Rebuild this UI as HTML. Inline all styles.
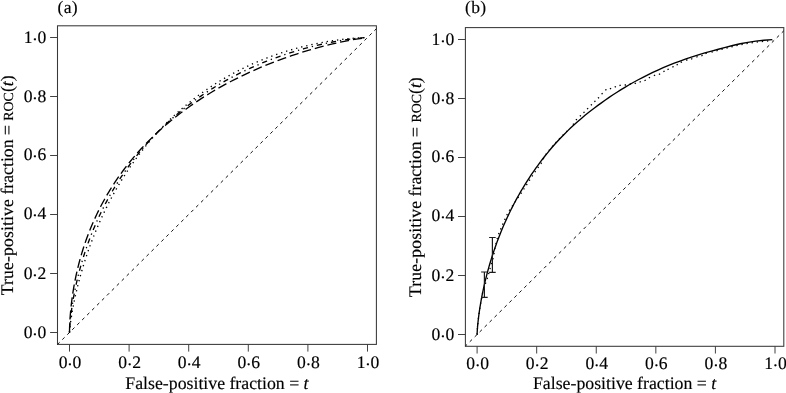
<!DOCTYPE html>
<html><head><meta charset="utf-8"><title>ROC curves</title>
<style>
html,body{margin:0;padding:0;background:#fff;}
body{width:786px;height:393px;overflow:hidden;}
svg text{font-family:"Liberation Serif",serif;text-rendering:geometricPrecision;stroke:#000;stroke-width:0.15px;}
</style></head><body>
<svg width="786" height="393" viewBox="0 0 786 393" style="display:block">
<rect width="786" height="393" fill="#fff"/>
<rect x="57.5" y="25.8" width="318.90" height="318.60" fill="none" stroke="#383838" stroke-width="1.05"/>
<path d="M69.50 344.4 v7.2 M57.5 332.50 h-7.4 M129.10 344.4 v7.2 M57.5 273.50 h-7.4 M188.70 344.4 v7.2 M57.5 214.50 h-7.4 M248.30 344.4 v7.2 M57.5 155.50 h-7.4 M307.90 344.4 v7.2 M57.5 96.50 h-7.4 M367.50 344.4 v7.2 M57.5 37.50 h-7.4" stroke="#383838" stroke-width="0.95" fill="none"/>
<g font-size="17.6" fill="#000">
<text x="70.00" y="367.8" text-anchor="middle">0<tspan dx="-0.4" dy="1.9">·</tspan><tspan dx="-0.4" dy="-1.9">0</tspan></text>
<text x="46.30" y="337.80" text-anchor="end">0<tspan dx="-0.4" dy="1.9">·</tspan><tspan dx="-0.4" dy="-1.9">0</tspan></text>
<text x="129.60" y="367.8" text-anchor="middle">0<tspan dx="-0.4" dy="1.9">·</tspan><tspan dx="-0.4" dy="-1.9">2</tspan></text>
<text x="46.30" y="278.85" text-anchor="end">0<tspan dx="-0.4" dy="1.9">·</tspan><tspan dx="-0.4" dy="-1.9">2</tspan></text>
<text x="189.20" y="367.8" text-anchor="middle">0<tspan dx="-0.4" dy="1.9">·</tspan><tspan dx="-0.4" dy="-1.9">4</tspan></text>
<text x="46.30" y="218.75" text-anchor="end">0<tspan dx="-0.4" dy="1.9">·</tspan><tspan dx="-0.4" dy="-1.9">4</tspan></text>
<text x="248.80" y="367.8" text-anchor="middle">0<tspan dx="-0.4" dy="1.9">·</tspan><tspan dx="-0.4" dy="-1.9">6</tspan></text>
<text x="46.30" y="160.35" text-anchor="end">0<tspan dx="-0.4" dy="1.9">·</tspan><tspan dx="-0.4" dy="-1.9">6</tspan></text>
<text x="308.40" y="367.8" text-anchor="middle">0<tspan dx="-0.4" dy="1.9">·</tspan><tspan dx="-0.4" dy="-1.9">8</tspan></text>
<text x="46.30" y="102.30" text-anchor="end">0<tspan dx="-0.4" dy="1.9">·</tspan><tspan dx="-0.4" dy="-1.9">8</tspan></text>
<text x="368.00" y="367.8" text-anchor="middle">1<tspan dx="-0.4" dy="1.9">·</tspan><tspan dx="-0.4" dy="-1.9">0</tspan></text>
<text x="46.30" y="43.00" text-anchor="end">1<tspan dx="-0.4" dy="1.9">·</tspan><tspan dx="-0.4" dy="-1.9">0</tspan></text>
</g>
<text x="216.95" y="389.0" font-size="17.77" text-anchor="middle" fill="#000">False-positive fraction = <tspan font-style="italic">t</tspan></text>
<text transform="translate(13.0 185.30) rotate(-90)" font-size="17.72" text-anchor="middle" fill="#000"><tspan letter-spacing="0.115">True-positive</tspan> fraction = <tspan font-size="13.9">ROC</tspan>(<tspan font-style="italic">t</tspan>)</text>
<text x="57.6" y="12.6" font-size="17.6" letter-spacing="0.25" fill="#000">(a)</text>
<path d="M57.5 344.38 L376.4 28.69" stroke="#111" stroke-width="1.0" stroke-dasharray="3.2 3.77" stroke-dashoffset="0.2" fill="none"/>
<path d="M69.50 332.50 L69.50 331.94 L69.50 331.93 L69.50 331.92 L69.50 331.91 L69.50 331.90 L69.50 331.89 L69.50 331.87 L69.50 331.86 L69.50 331.85 L69.50 331.84 L69.50 331.83 L69.50 331.81 L69.50 331.80 L69.50 331.79 L69.50 331.77 L69.50 331.76 L69.50 331.75 L69.50 331.73 L69.51 331.72 L69.51 331.70 L69.51 331.69 L69.51 331.67 L69.51 331.66 L69.51 331.64 L69.51 331.63 L69.51 331.61 L69.51 331.60 L69.51 331.58 L69.51 331.56 L69.51 331.54 L69.51 331.53 L69.51 331.51 L69.51 331.49 L69.51 331.47 L69.51 331.45 L69.51 331.43 L69.51 331.41 L69.51 331.39 L69.51 331.37 L69.51 331.35 L69.51 331.33 L69.51 331.31 L69.51 331.29 L69.51 331.27 L69.51 331.24 L69.51 331.22 L69.51 331.20 L69.51 331.17 L69.51 331.15 L69.51 331.12 L69.51 331.10 L69.51 331.07 L69.51 331.05 L69.51 331.02 L69.51 330.99 L69.51 330.97 L69.51 330.94 L69.52 330.91 L69.52 330.88 L69.52 330.85 L69.52 330.82 L69.52 330.79 L69.52 330.76 L69.52 330.73 L69.52 330.69 L69.52 330.66 L69.52 330.63 L69.52 330.59 L69.52 330.56 L69.52 330.52 L69.52 330.49 L69.52 330.45 L69.52 330.41 L69.52 330.38 L69.53 330.34 L69.53 330.30 L69.53 330.26 L69.53 330.22 L69.53 330.18 L69.53 330.14 L69.53 330.09 L69.53 330.05 L69.53 330.00 L69.53 329.96 L69.53 329.91 L69.53 329.87 L69.54 329.82 L69.54 329.77 L69.54 329.72 L69.54 329.67 L69.54 329.62 L69.54 329.57 L69.54 329.52 L69.54 329.46 L69.54 329.41 L69.55 329.35 L69.55 329.30 L69.55 329.24 L69.55 329.18 L69.55 329.12 L69.55 329.06 L69.55 329.00 L69.56 328.93 L69.56 328.87 L69.56 328.81 L69.56 328.74 L69.56 328.67 L69.57 328.60 L69.57 328.53 L69.57 328.46 L69.57 328.39 L69.57 328.32 L69.58 328.24 L69.58 328.17 L69.58 328.09 L69.58 328.01 L69.58 327.93 L69.59 327.85 L69.59 327.77 L69.59 327.68 L69.59 327.60 L69.60 327.51 L69.60 327.42 L69.60 327.33 L69.61 327.24 L69.61 327.15 L69.61 327.05 L69.62 326.96 L69.62 326.86 L69.62 326.76 L69.63 326.66 L69.63 326.56 L69.63 326.45 L69.64 326.34 L69.64 326.24 L69.65 326.12 L69.65 326.01 L69.65 325.90 L69.66 325.78 L69.66 325.66 L69.67 325.54 L69.67 325.42 L69.68 325.30 L69.68 325.17 L69.69 325.04 L69.69 324.91 L69.70 324.78 L69.71 324.65 L69.71 324.51 L69.72 324.37 L69.73 324.23 L69.73 324.08 L69.74 323.94 L69.75 323.79 L69.75 323.63 L69.76 323.48 L69.77 323.32 L69.78 323.16 L69.78 323.00 L69.79 322.84 L69.80 322.67 L69.81 322.50 L69.82 322.33 L69.83 322.15 L69.84 321.97 L69.85 321.79 L69.86 321.60 L69.87 321.42 L69.88 321.22 L69.89 321.03 L69.90 320.83 L69.91 320.63 L69.92 320.43 L69.94 320.22 L69.95 320.01 L69.96 319.80 L69.98 319.58 L69.99 319.36 L70.00 319.13 L70.02 318.90 L70.03 318.67 L70.05 318.43 L70.07 318.19 L70.08 317.95 L70.10 317.70 L70.12 317.45 L70.14 317.19 L70.15 316.93 L70.17 316.67 L70.19 316.40 L70.21 316.13 L70.23 315.85 L70.26 315.57 L70.28 315.28 L70.30 314.99 L70.32 314.69 L70.35 314.39 L70.37 314.09 L70.40 313.78 L70.42 313.46 L70.45 313.14 L70.48 312.82 L70.51 312.48 L70.54 312.15 L70.57 311.81 L70.60 311.46 L70.63 311.11 L70.66 310.75 L70.70 310.39 L70.73 310.02 L70.77 309.64 L70.81 309.26 L70.85 308.88 L70.88 308.48 L70.92 308.08 L70.97 307.68 L71.01 307.27 L71.05 306.85 L71.10 306.43 L71.15 305.99 L71.19 305.56 L71.24 305.11 L71.29 304.66 L71.35 304.20 L71.40 303.74 L71.46 303.26 L71.51 302.78 L71.57 302.30 L71.63 301.80 L71.70 301.30 L71.76 300.79 L71.83 300.27 L71.89 299.75 L71.96 299.21 L72.04 298.67 L72.11 298.12 L72.19 297.56 L72.27 297.00 L72.35 296.42 L72.43 295.84 L72.52 295.25 L72.60 294.64 L72.69 294.03 L72.79 293.41 L72.88 292.79 L72.98 292.15 L73.09 291.50 L73.19 290.84 L73.30 290.18 L73.41 289.50 L73.52 288.82 L73.64 288.12 L73.76 287.41 L73.89 286.70 L74.02 285.97 L74.15 285.23 L74.28 284.48 L74.42 283.72 L74.57 282.95 L74.72 282.17 L74.87 281.38 L75.02 280.58 L75.19 279.76 L75.35 278.93 L75.52 278.09 L75.70 277.24 L75.88 276.38 L76.07 275.51 L76.26 274.62 L76.46 273.72 L76.66 272.81 L76.87 271.89 L77.09 270.95 L77.31 270.00 L77.54 269.04 L77.77 268.06 L78.01 267.07 L78.26 266.07 L78.52 265.05 L78.78 264.02 L79.06 262.97 L79.33 261.91 L79.62 260.84 L79.92 259.75 L80.22 258.65 L80.54 257.54 L80.86 256.41 L81.19 255.26 L81.53 254.10 L81.89 252.92 L82.25 251.73 L82.62 250.52 L83.00 249.30 L83.40 248.06 L83.81 246.81 L84.22 245.54 L84.66 244.25 L85.10 242.95 L85.56 241.63 L86.02 240.30 L86.51 238.95 L87.01 237.58 L87.52 236.19 L88.05 234.79 L88.59 233.37 L89.15 231.94 L89.72 230.48 L90.31 229.01 L90.92 227.52 L91.55 226.02 L92.19 224.49 L92.86 222.95 L93.54 221.39 L94.24 219.81 L94.97 218.22 L95.71 216.60 L96.48 214.97 L97.27 213.32 L98.08 211.65 L98.92 209.97 L99.78 208.26 L100.66 206.54 L101.57 204.79 L102.51 203.03 L103.48 201.25 L104.47 199.46 L105.49 197.64 L106.55 195.80 L107.63 193.95 L108.75 192.08 L109.89 190.18 L111.07 188.27 L112.29 186.34 L113.54 184.40 L114.83 182.43 L116.16 180.45 L117.52 178.45 L118.93 176.42 L120.37 174.39 L121.86 172.33 L123.39 170.25 L124.97 168.16 L126.59 166.05 L128.26 163.92 L129.98 161.78 L131.75 159.62 L133.57 157.44 L135.44 155.24 L137.37 153.03 L139.36 150.81 L141.40 148.56 L143.50 146.30 L145.67 144.03 L147.90 141.74 L150.19 139.44 L152.55 137.12 L154.98 134.79 L157.48 132.45 L160.05 130.10 L162.70 127.73 L165.43 125.35 L168.24 122.96 L171.12 120.56 L174.10 118.15 L177.16 115.74 L180.30 113.31 L183.55 110.88 L186.88 108.44 L190.32 106.00 L193.85 103.55 L197.49 101.10 L201.23 98.65 L205.08 96.19 L209.05 93.74 L213.13 91.29 L217.33 88.84 L221.66 86.39 L226.11 83.96 L230.69 81.52 L235.41 79.10 L240.26 76.69 L245.25 74.30 L250.39 71.92 L255.69 69.55 L261.13 67.21 L266.74 64.90 L272.51 62.60 L278.45 60.34 L284.56 58.12 L290.85 55.93 L297.32 53.78 L303.99 51.68 L310.85 49.64 L317.91 47.65 L325.17 45.74 L332.65 43.91 L340.35 42.17 L348.27 40.55 L356.43 39.07 L364.82 37.81" stroke="#000" stroke-width="1.35" stroke-dasharray="9.14 3.915" fill="none" stroke-linejoin="round"/>
<path d="M69.50 332.50 L69.50 332.30 L69.50 332.29 L69.50 332.29 L69.50 332.28 L69.50 332.28 L69.50 332.27 L69.50 332.27 L69.50 332.26 L69.50 332.26 L69.50 332.25 L69.50 332.25 L69.50 332.24 L69.50 332.24 L69.50 332.23 L69.50 332.22 L69.50 332.22 L69.50 332.21 L69.50 332.21 L69.51 332.20 L69.51 332.19 L69.51 332.19 L69.51 332.18 L69.51 332.17 L69.51 332.16 L69.51 332.16 L69.51 332.15 L69.51 332.14 L69.51 332.13 L69.51 332.13 L69.51 332.12 L69.51 332.11 L69.51 332.10 L69.51 332.09 L69.51 332.08 L69.51 332.07 L69.51 332.06 L69.51 332.05 L69.51 332.04 L69.51 332.03 L69.51 332.02 L69.51 332.01 L69.51 332.00 L69.51 331.99 L69.51 331.98 L69.51 331.97 L69.51 331.96 L69.51 331.95 L69.51 331.93 L69.51 331.92 L69.51 331.91 L69.51 331.90 L69.51 331.88 L69.51 331.87 L69.51 331.86 L69.51 331.84 L69.51 331.83 L69.51 331.81 L69.52 331.80 L69.52 331.78 L69.52 331.77 L69.52 331.75 L69.52 331.74 L69.52 331.72 L69.52 331.70 L69.52 331.69 L69.52 331.67 L69.52 331.65 L69.52 331.63 L69.52 331.61 L69.52 331.59 L69.52 331.57 L69.52 331.55 L69.52 331.53 L69.52 331.51 L69.53 331.49 L69.53 331.47 L69.53 331.45 L69.53 331.42 L69.53 331.40 L69.53 331.38 L69.53 331.35 L69.53 331.33 L69.53 331.30 L69.53 331.28 L69.53 331.25 L69.53 331.23 L69.54 331.20 L69.54 331.17 L69.54 331.14 L69.54 331.11 L69.54 331.08 L69.54 331.05 L69.54 331.02 L69.54 330.99 L69.54 330.96 L69.55 330.92 L69.55 330.89 L69.55 330.86 L69.55 330.82 L69.55 330.79 L69.55 330.75 L69.55 330.71 L69.56 330.67 L69.56 330.64 L69.56 330.60 L69.56 330.56 L69.56 330.51 L69.57 330.47 L69.57 330.43 L69.57 330.39 L69.57 330.34 L69.57 330.29 L69.58 330.25 L69.58 330.20 L69.58 330.15 L69.58 330.10 L69.58 330.05 L69.59 330.00 L69.59 329.95 L69.59 329.89 L69.59 329.84 L69.60 329.78 L69.60 329.73 L69.60 329.67 L69.61 329.61 L69.61 329.55 L69.61 329.48 L69.62 329.42 L69.62 329.36 L69.62 329.29 L69.63 329.22 L69.63 329.16 L69.63 329.09 L69.64 329.01 L69.64 328.94 L69.65 328.87 L69.65 328.79 L69.65 328.71 L69.66 328.63 L69.66 328.55 L69.67 328.47 L69.67 328.39 L69.68 328.30 L69.68 328.22 L69.69 328.13 L69.69 328.04 L69.70 327.94 L69.71 327.85 L69.71 327.75 L69.72 327.66 L69.73 327.56 L69.73 327.45 L69.74 327.35 L69.75 327.24 L69.75 327.13 L69.76 327.02 L69.77 326.91 L69.78 326.80 L69.78 326.68 L69.79 326.56 L69.80 326.44 L69.81 326.31 L69.82 326.19 L69.83 326.06 L69.84 325.93 L69.85 325.79 L69.86 325.65 L69.87 325.51 L69.88 325.37 L69.89 325.23 L69.90 325.08 L69.91 324.93 L69.92 324.77 L69.94 324.62 L69.95 324.46 L69.96 324.29 L69.98 324.13 L69.99 323.96 L70.00 323.78 L70.02 323.61 L70.03 323.43 L70.05 323.24 L70.07 323.06 L70.08 322.87 L70.10 322.67 L70.12 322.48 L70.14 322.27 L70.15 322.07 L70.17 321.86 L70.19 321.65 L70.21 321.43 L70.23 321.21 L70.26 320.98 L70.28 320.75 L70.30 320.52 L70.32 320.28 L70.35 320.04 L70.37 319.79 L70.40 319.53 L70.42 319.28 L70.45 319.02 L70.48 318.75 L70.51 318.48 L70.54 318.20 L70.57 317.92 L70.60 317.63 L70.63 317.33 L70.66 317.04 L70.70 316.73 L70.73 316.42 L70.77 316.11 L70.81 315.78 L70.85 315.46 L70.88 315.12 L70.92 314.78 L70.97 314.44 L71.01 314.08 L71.05 313.72 L71.10 313.36 L71.15 312.99 L71.19 312.61 L71.24 312.22 L71.29 311.83 L71.35 311.43 L71.40 311.02 L71.46 310.61 L71.51 310.18 L71.57 309.75 L71.63 309.32 L71.70 308.87 L71.76 308.42 L71.83 307.95 L71.89 307.48 L71.96 307.01 L72.04 306.52 L72.11 306.02 L72.19 305.52 L72.27 305.01 L72.35 304.48 L72.43 303.95 L72.52 303.41 L72.60 302.86 L72.69 302.30 L72.79 301.73 L72.88 301.15 L72.98 300.56 L73.09 299.96 L73.19 299.35 L73.30 298.73 L73.41 298.10 L73.52 297.45 L73.64 296.80 L73.76 296.13 L73.89 295.46 L74.02 294.77 L74.15 294.07 L74.28 293.36 L74.42 292.64 L74.57 291.90 L74.72 291.15 L74.87 290.39 L75.02 289.62 L75.19 288.83 L75.35 288.03 L75.52 287.22 L75.70 286.40 L75.88 285.56 L76.07 284.70 L76.26 283.84 L76.46 282.96 L76.66 282.06 L76.87 281.15 L77.09 280.23 L77.31 279.29 L77.54 278.33 L77.77 277.36 L78.01 276.38 L78.26 275.38 L78.52 274.36 L78.78 273.33 L79.06 272.28 L79.33 271.21 L79.62 270.13 L79.92 269.03 L80.22 267.92 L80.54 266.79 L80.86 265.64 L81.19 264.47 L81.53 263.28 L81.89 262.08 L82.25 260.86 L82.62 259.62 L83.00 258.36 L83.40 257.09 L83.81 255.79 L84.22 254.48 L84.66 253.15 L85.10 251.80 L85.56 250.42 L86.02 249.03 L86.51 247.62 L87.01 246.19 L87.52 244.74 L88.05 243.27 L88.59 241.78 L89.15 240.27 L89.72 238.73 L90.31 237.18 L90.92 235.60 L91.55 234.01 L92.19 232.39 L92.86 230.75 L93.54 229.09 L94.24 227.41 L94.97 225.71 L95.71 223.98 L96.48 222.24 L97.27 220.47 L98.08 218.68 L98.92 216.86 L99.78 215.03 L100.66 213.17 L101.57 211.29 L102.51 209.39 L103.48 207.46 L104.47 205.52 L105.49 203.55 L106.55 201.56 L107.63 199.55 L108.75 197.51 L109.89 195.45 L111.07 193.37 L112.29 191.27 L113.54 189.15 L114.83 187.00 L116.16 184.84 L117.52 182.65 L118.93 180.44 L120.37 178.21 L121.86 175.96 L123.39 173.69 L124.97 171.40 L126.59 169.09 L128.26 166.76 L129.98 164.40 L131.75 162.04 L133.57 159.65 L135.44 157.24 L137.37 154.82 L139.36 152.38 L141.40 149.92 L143.50 147.44 L145.67 144.96 L147.90 142.45 L150.19 139.93 L152.55 137.40 L154.98 134.86 L157.48 132.30 L160.05 129.73 L162.70 127.16 L165.43 124.57 L168.24 121.97 L171.12 119.37 L174.10 116.76 L177.16 114.15 L180.30 111.54 L183.55 108.92 L186.88 106.30 L190.32 103.68 L193.85 101.06 L197.49 98.45 L201.23 95.84 L205.08 93.24 L209.05 90.65 L213.13 88.07 L217.33 85.51 L221.66 82.96 L226.11 80.43 L230.69 77.92 L235.41 75.43 L240.26 72.97 L245.25 70.54 L250.39 68.14 L255.69 65.78 L261.13 63.45 L266.74 61.17 L272.51 58.94 L278.45 56.77 L284.56 54.65 L290.85 52.59 L297.32 50.60 L303.99 48.70 L310.85 46.87 L317.91 45.14 L325.17 43.51 L332.65 42.00 L340.35 40.63 L348.27 39.41 L356.43 38.39 L364.82 37.63" stroke="#000" stroke-width="1.35" stroke-dasharray="1.305 3.917 5.222 3.917" fill="none" stroke-linejoin="round"/>
<path d="M69.50 332.50 L69.50 332.43 L69.50 332.43 L69.50 332.43 L69.50 332.43 L69.50 332.42 L69.50 332.42 L69.50 332.42 L69.50 332.42 L69.50 332.42 L69.50 332.41 L69.50 332.41 L69.50 332.41 L69.50 332.41 L69.50 332.40 L69.50 332.40 L69.50 332.40 L69.50 332.40 L69.50 332.39 L69.51 332.39 L69.51 332.39 L69.51 332.38 L69.51 332.38 L69.51 332.38 L69.51 332.38 L69.51 332.37 L69.51 332.37 L69.51 332.37 L69.51 332.36 L69.51 332.36 L69.51 332.35 L69.51 332.35 L69.51 332.35 L69.51 332.34 L69.51 332.34 L69.51 332.34 L69.51 332.33 L69.51 332.33 L69.51 332.32 L69.51 332.32 L69.51 332.31 L69.51 332.31 L69.51 332.30 L69.51 332.30 L69.51 332.29 L69.51 332.29 L69.51 332.28 L69.51 332.28 L69.51 332.27 L69.51 332.27 L69.51 332.26 L69.51 332.25 L69.51 332.25 L69.51 332.24 L69.51 332.23 L69.51 332.23 L69.51 332.22 L69.51 332.21 L69.52 332.21 L69.52 332.20 L69.52 332.19 L69.52 332.18 L69.52 332.17 L69.52 332.17 L69.52 332.16 L69.52 332.15 L69.52 332.14 L69.52 332.13 L69.52 332.12 L69.52 332.11 L69.52 332.10 L69.52 332.09 L69.52 332.08 L69.52 332.07 L69.52 332.06 L69.53 332.05 L69.53 332.04 L69.53 332.03 L69.53 332.02 L69.53 332.00 L69.53 331.99 L69.53 331.98 L69.53 331.96 L69.53 331.95 L69.53 331.94 L69.53 331.92 L69.53 331.91 L69.54 331.89 L69.54 331.88 L69.54 331.86 L69.54 331.85 L69.54 331.83 L69.54 331.81 L69.54 331.80 L69.54 331.78 L69.54 331.76 L69.55 331.74 L69.55 331.72 L69.55 331.71 L69.55 331.69 L69.55 331.66 L69.55 331.64 L69.55 331.62 L69.56 331.60 L69.56 331.58 L69.56 331.56 L69.56 331.53 L69.56 331.51 L69.57 331.48 L69.57 331.46 L69.57 331.43 L69.57 331.41 L69.57 331.38 L69.58 331.35 L69.58 331.32 L69.58 331.29 L69.58 331.26 L69.58 331.23 L69.59 331.20 L69.59 331.17 L69.59 331.14 L69.59 331.11 L69.60 331.07 L69.60 331.04 L69.60 331.00 L69.61 330.96 L69.61 330.93 L69.61 330.89 L69.62 330.85 L69.62 330.81 L69.62 330.77 L69.63 330.72 L69.63 330.68 L69.63 330.64 L69.64 330.59 L69.64 330.54 L69.65 330.50 L69.65 330.45 L69.65 330.40 L69.66 330.35 L69.66 330.29 L69.67 330.24 L69.67 330.19 L69.68 330.13 L69.68 330.07 L69.69 330.01 L69.69 329.95 L69.70 329.89 L69.71 329.83 L69.71 329.76 L69.72 329.70 L69.73 329.63 L69.73 329.56 L69.74 329.49 L69.75 329.42 L69.75 329.34 L69.76 329.27 L69.77 329.19 L69.78 329.11 L69.78 329.03 L69.79 328.95 L69.80 328.86 L69.81 328.78 L69.82 328.69 L69.83 328.60 L69.84 328.50 L69.85 328.41 L69.86 328.31 L69.87 328.21 L69.88 328.11 L69.89 328.00 L69.90 327.90 L69.91 327.79 L69.92 327.68 L69.94 327.56 L69.95 327.45 L69.96 327.33 L69.98 327.21 L69.99 327.08 L70.00 326.95 L70.02 326.82 L70.03 326.69 L70.05 326.55 L70.07 326.41 L70.08 326.27 L70.10 326.12 L70.12 325.98 L70.14 325.82 L70.15 325.67 L70.17 325.51 L70.19 325.34 L70.21 325.18 L70.23 325.01 L70.26 324.83 L70.28 324.66 L70.30 324.47 L70.32 324.29 L70.35 324.10 L70.37 323.90 L70.40 323.70 L70.42 323.50 L70.45 323.29 L70.48 323.08 L70.51 322.87 L70.54 322.64 L70.57 322.42 L70.60 322.19 L70.63 321.95 L70.66 321.71 L70.70 321.46 L70.73 321.21 L70.77 320.95 L70.81 320.69 L70.85 320.42 L70.88 320.15 L70.92 319.87 L70.97 319.58 L71.01 319.29 L71.05 318.99 L71.10 318.69 L71.15 318.37 L71.19 318.06 L71.24 317.73 L71.29 317.40 L71.35 317.06 L71.40 316.71 L71.46 316.36 L71.51 316.00 L71.57 315.63 L71.63 315.25 L71.70 314.87 L71.76 314.48 L71.83 314.08 L71.89 313.67 L71.96 313.25 L72.04 312.83 L72.11 312.39 L72.19 311.95 L72.27 311.50 L72.35 311.04 L72.43 310.57 L72.52 310.08 L72.60 309.59 L72.69 309.09 L72.79 308.58 L72.88 308.06 L72.98 307.53 L73.09 306.99 L73.19 306.43 L73.30 305.87 L73.41 305.29 L73.52 304.71 L73.64 304.11 L73.76 303.50 L73.89 302.88 L74.02 302.24 L74.15 301.59 L74.28 300.93 L74.42 300.26 L74.57 299.58 L74.72 298.88 L74.87 298.16 L75.02 297.44 L75.19 296.70 L75.35 295.94 L75.52 295.17 L75.70 294.39 L75.88 293.59 L76.07 292.78 L76.26 291.95 L76.46 291.10 L76.66 290.24 L76.87 289.36 L77.09 288.47 L77.31 287.56 L77.54 286.64 L77.77 285.69 L78.01 284.73 L78.26 283.75 L78.52 282.76 L78.78 281.74 L79.06 280.71 L79.33 279.66 L79.62 278.59 L79.92 277.50 L80.22 276.40 L80.54 275.27 L80.86 274.12 L81.19 272.96 L81.53 271.77 L81.89 270.56 L82.25 269.33 L82.62 268.08 L83.00 266.81 L83.40 265.52 L83.81 264.21 L84.22 262.87 L84.66 261.51 L85.10 260.13 L85.56 258.73 L86.02 257.30 L86.51 255.86 L87.01 254.38 L87.52 252.89 L88.05 251.37 L88.59 249.82 L89.15 248.26 L89.72 246.66 L90.31 245.05 L90.92 243.41 L91.55 241.74 L92.19 240.05 L92.86 238.33 L93.54 236.59 L94.24 234.82 L94.97 233.03 L95.71 231.21 L96.48 229.37 L97.27 227.50 L98.08 225.60 L98.92 223.68 L99.78 221.73 L100.66 219.75 L101.57 217.75 L102.51 215.72 L103.48 213.67 L104.47 211.59 L105.49 209.48 L106.55 207.35 L107.63 205.19 L108.75 203.00 L109.89 200.79 L111.07 198.55 L112.29 196.29 L113.54 194.00 L114.83 191.68 L116.16 189.34 L117.52 186.98 L118.93 184.59 L120.37 182.18 L121.86 179.74 L123.39 177.28 L124.97 174.79 L126.59 172.29 L128.26 169.76 L129.98 167.21 L131.75 164.63 L133.57 162.04 L135.44 159.43 L137.37 156.80 L139.36 154.15 L141.40 151.48 L143.50 148.79 L145.67 146.09 L147.90 143.37 L150.19 140.64 L152.55 137.90 L154.98 135.15 L157.48 132.38 L160.05 129.60 L162.70 126.82 L165.43 124.03 L168.24 121.23 L171.12 118.44 L174.10 115.63 L177.16 112.83 L180.30 110.03 L183.55 107.23 L186.88 104.44 L190.32 101.66 L193.85 98.88 L197.49 96.12 L201.23 93.37 L205.08 90.64 L209.05 87.92 L213.13 85.23 L217.33 82.56 L221.66 79.93 L226.11 77.32 L230.69 74.75 L235.41 72.21 L240.26 69.72 L245.25 67.27 L250.39 64.87 L255.69 62.53 L261.13 60.25 L266.74 58.03 L272.51 55.88 L278.45 53.80 L284.56 51.80 L290.85 49.89 L297.32 48.07 L303.99 46.35 L310.85 44.74 L317.91 43.25 L325.17 41.89 L332.65 40.66 L340.35 39.59 L348.27 38.69 L356.43 38.00 L364.82 37.56" stroke="#000" stroke-width="1.35" stroke-dasharray="1.305 3.917" fill="none" stroke-linejoin="round"/>
<rect x="465.4" y="27.6" width="318.40" height="318.70" fill="none" stroke="#383838" stroke-width="1.05"/>
<path d="M477.10 346.3 v7.2 M465.4 334.50 h-7.4 M536.68 346.3 v7.2 M465.4 275.50 h-7.4 M596.26 346.3 v7.2 M465.4 216.50 h-7.4 M655.84 346.3 v7.2 M465.4 157.50 h-7.4 M715.42 346.3 v7.2 M465.4 98.50 h-7.4 M775.00 346.3 v7.2 M465.4 39.50 h-7.4" stroke="#383838" stroke-width="0.95" fill="none"/>
<g font-size="17.6" fill="#000">
<text x="477.60" y="368.9" text-anchor="middle">0<tspan dx="-0.4" dy="1.9">·</tspan><tspan dx="-0.4" dy="-1.9">0</tspan></text>
<text x="454.20" y="339.80" text-anchor="end">0<tspan dx="-0.4" dy="1.9">·</tspan><tspan dx="-0.4" dy="-1.9">0</tspan></text>
<text x="537.18" y="368.9" text-anchor="middle">0<tspan dx="-0.4" dy="1.9">·</tspan><tspan dx="-0.4" dy="-1.9">2</tspan></text>
<text x="454.20" y="280.85" text-anchor="end">0<tspan dx="-0.4" dy="1.9">·</tspan><tspan dx="-0.4" dy="-1.9">2</tspan></text>
<text x="596.76" y="368.9" text-anchor="middle">0<tspan dx="-0.4" dy="1.9">·</tspan><tspan dx="-0.4" dy="-1.9">4</tspan></text>
<text x="454.20" y="220.75" text-anchor="end">0<tspan dx="-0.4" dy="1.9">·</tspan><tspan dx="-0.4" dy="-1.9">4</tspan></text>
<text x="656.34" y="368.9" text-anchor="middle">0<tspan dx="-0.4" dy="1.9">·</tspan><tspan dx="-0.4" dy="-1.9">6</tspan></text>
<text x="454.20" y="162.35" text-anchor="end">0<tspan dx="-0.4" dy="1.9">·</tspan><tspan dx="-0.4" dy="-1.9">6</tspan></text>
<text x="715.92" y="368.9" text-anchor="middle">0<tspan dx="-0.4" dy="1.9">·</tspan><tspan dx="-0.4" dy="-1.9">8</tspan></text>
<text x="454.20" y="104.30" text-anchor="end">0<tspan dx="-0.4" dy="1.9">·</tspan><tspan dx="-0.4" dy="-1.9">8</tspan></text>
<text x="775.50" y="368.9" text-anchor="middle">1<tspan dx="-0.4" dy="1.9">·</tspan><tspan dx="-0.4" dy="-1.9">0</tspan></text>
<text x="454.20" y="45.00" text-anchor="end">1<tspan dx="-0.4" dy="1.9">·</tspan><tspan dx="-0.4" dy="-1.9">0</tspan></text>
</g>
<text x="624.60" y="388.9" font-size="17.77" text-anchor="middle" fill="#000">False-positive fraction = <tspan font-style="italic">t</tspan></text>
<text transform="translate(420.9 187.15) rotate(-90)" font-size="17.72" text-anchor="middle" fill="#000"><tspan letter-spacing="0.115">True-positive</tspan> fraction = <tspan font-size="13.9">ROC</tspan>(<tspan font-style="italic">t</tspan>)</text>
<text x="465.1" y="12.6" font-size="17.6" letter-spacing="0.25" fill="#000">(b)</text>
<path d="M465.4 346.09 L783.8 30.79" stroke="#111" stroke-width="1.0" stroke-dasharray="3.2 3.77" stroke-dashoffset="0.83" fill="none"/>
<path d="M477.10 334.50 L477.10 334.33 L477.10 334.33 L477.10 334.32 L477.10 334.32 L477.10 334.32 L477.10 334.31 L477.10 334.31 L477.10 334.30 L477.10 334.30 L477.10 334.29 L477.10 334.29 L477.10 334.28 L477.10 334.28 L477.10 334.27 L477.10 334.27 L477.10 334.26 L477.10 334.26 L477.10 334.25 L477.11 334.25 L477.11 334.24 L477.11 334.23 L477.11 334.23 L477.11 334.22 L477.11 334.22 L477.11 334.21 L477.11 334.20 L477.11 334.20 L477.11 334.19 L477.11 334.18 L477.11 334.18 L477.11 334.17 L477.11 334.16 L477.11 334.15 L477.11 334.15 L477.11 334.14 L477.11 334.13 L477.11 334.12 L477.11 334.11 L477.11 334.10 L477.11 334.09 L477.11 334.08 L477.11 334.08 L477.11 334.07 L477.11 334.06 L477.11 334.05 L477.11 334.04 L477.11 334.03 L477.11 334.01 L477.11 334.00 L477.11 333.99 L477.11 333.98 L477.11 333.97 L477.11 333.96 L477.11 333.95 L477.11 333.93 L477.11 333.92 L477.11 333.91 L477.12 333.89 L477.12 333.88 L477.12 333.87 L477.12 333.85 L477.12 333.84 L477.12 333.82 L477.12 333.81 L477.12 333.79 L477.12 333.78 L477.12 333.76 L477.12 333.74 L477.12 333.73 L477.12 333.71 L477.12 333.69 L477.12 333.67 L477.12 333.66 L477.12 333.64 L477.13 333.62 L477.13 333.60 L477.13 333.58 L477.13 333.56 L477.13 333.54 L477.13 333.52 L477.13 333.49 L477.13 333.47 L477.13 333.45 L477.13 333.43 L477.13 333.40 L477.13 333.38 L477.14 333.35 L477.14 333.33 L477.14 333.30 L477.14 333.28 L477.14 333.25 L477.14 333.22 L477.14 333.19 L477.14 333.16 L477.14 333.13 L477.15 333.10 L477.15 333.07 L477.15 333.04 L477.15 333.01 L477.15 332.98 L477.15 332.94 L477.15 332.91 L477.16 332.87 L477.16 332.84 L477.16 332.80 L477.16 332.77 L477.16 332.73 L477.17 332.69 L477.17 332.65 L477.17 332.61 L477.17 332.57 L477.17 332.52 L477.18 332.48 L477.18 332.44 L477.18 332.39 L477.18 332.35 L477.18 332.30 L477.19 332.25 L477.19 332.20 L477.19 332.15 L477.19 332.10 L477.20 332.05 L477.20 332.00 L477.20 331.94 L477.21 331.89 L477.21 331.83 L477.21 331.77 L477.22 331.71 L477.22 331.65 L477.22 331.59 L477.23 331.53 L477.23 331.47 L477.23 331.40 L477.24 331.33 L477.24 331.27 L477.25 331.20 L477.25 331.13 L477.25 331.05 L477.26 330.98 L477.26 330.90 L477.27 330.83 L477.27 330.75 L477.28 330.67 L477.28 330.59 L477.29 330.50 L477.29 330.42 L477.30 330.33 L477.31 330.24 L477.31 330.15 L477.32 330.06 L477.33 329.96 L477.33 329.87 L477.34 329.77 L477.35 329.67 L477.35 329.56 L477.36 329.46 L477.37 329.35 L477.38 329.24 L477.38 329.13 L477.39 329.02 L477.40 328.90 L477.41 328.78 L477.42 328.66 L477.43 328.54 L477.44 328.41 L477.45 328.29 L477.46 328.16 L477.47 328.02 L477.48 327.89 L477.49 327.75 L477.50 327.61 L477.51 327.46 L477.52 327.31 L477.54 327.16 L477.55 327.01 L477.56 326.85 L477.58 326.69 L477.59 326.53 L477.60 326.37 L477.62 326.20 L477.63 326.02 L477.65 325.85 L477.67 325.67 L477.68 325.48 L477.70 325.30 L477.72 325.11 L477.74 324.91 L477.75 324.71 L477.77 324.51 L477.79 324.31 L477.81 324.10 L477.83 323.88 L477.86 323.66 L477.88 323.44 L477.90 323.21 L477.92 322.98 L477.95 322.75 L477.97 322.51 L478.00 322.26 L478.02 322.01 L478.05 321.76 L478.08 321.50 L478.11 321.23 L478.14 320.96 L478.17 320.69 L478.20 320.41 L478.23 320.12 L478.26 319.83 L478.30 319.53 L478.33 319.23 L478.37 318.92 L478.41 318.61 L478.44 318.28 L478.48 317.96 L478.52 317.63 L478.57 317.29 L478.61 316.94 L478.65 316.59 L478.70 316.23 L478.75 315.87 L478.79 315.49 L478.84 315.11 L478.89 314.73 L478.95 314.33 L479.00 313.93 L479.06 313.53 L479.11 313.11 L479.17 312.69 L479.23 312.25 L479.30 311.81 L479.36 311.37 L479.43 310.91 L479.49 310.45 L479.56 309.97 L479.64 309.49 L479.71 309.00 L479.79 308.50 L479.86 308.00 L479.95 307.48 L480.03 306.95 L480.11 306.42 L480.20 305.87 L480.29 305.31 L480.39 304.75 L480.48 304.17 L480.58 303.59 L480.68 302.99 L480.79 302.38 L480.90 301.76 L481.01 301.14 L481.12 300.50 L481.24 299.85 L481.36 299.18 L481.49 298.51 L481.61 297.82 L481.75 297.12 L481.88 296.41 L482.02 295.69 L482.17 294.96 L482.31 294.21 L482.47 293.45 L482.62 292.68 L482.78 291.89 L482.95 291.09 L483.12 290.28 L483.30 289.45 L483.48 288.61 L483.67 287.75 L483.86 286.88 L484.06 286.00 L484.26 285.10 L484.47 284.19 L484.68 283.26 L484.91 282.32 L485.13 281.36 L485.37 280.38 L485.61 279.39 L485.86 278.38 L486.12 277.36 L486.38 276.32 L486.65 275.27 L486.93 274.19 L487.22 273.10 L487.51 272.00 L487.82 270.87 L488.13 269.73 L488.46 268.57 L488.79 267.39 L489.13 266.19 L489.48 264.98 L489.84 263.75 L490.22 262.49 L490.60 261.22 L491.00 259.93 L491.40 258.62 L491.82 257.29 L492.25 255.95 L492.69 254.58 L493.15 253.19 L493.62 251.78 L494.10 250.35 L494.60 248.90 L495.11 247.43 L495.64 245.94 L496.18 244.43 L496.74 242.89 L497.31 241.34 L497.90 239.76 L498.51 238.16 L499.14 236.54 L499.78 234.90 L500.45 233.24 L501.13 231.55 L501.83 229.84 L502.56 228.11 L503.30 226.36 L504.07 224.59 L504.86 222.79 L505.67 220.97 L506.51 219.12 L507.37 217.26 L508.25 215.37 L509.16 213.46 L510.10 211.52 L511.07 209.57 L512.06 207.59 L513.08 205.59 L514.13 203.56 L515.22 201.51 L516.33 199.44 L517.48 197.35 L518.66 195.23 L519.88 193.10 L521.13 190.94 L522.42 188.75 L523.74 186.55 L525.11 184.32 L526.51 182.08 L527.95 179.81 L529.44 177.52 L530.97 175.21 L532.55 172.88 L534.17 170.53 L535.84 168.16 L537.56 165.77 L539.33 163.36 L541.15 160.94 L543.02 158.49 L544.95 156.03 L546.93 153.55 L548.98 151.06 L551.08 148.55 L553.24 146.02 L555.47 143.48 L557.76 140.94 L560.12 138.43 L562.55 135.92 L565.05 133.40 L567.62 130.87 L570.27 128.34 L573.00 125.79 L575.80 123.25 L578.69 120.70 L581.66 118.14 L584.72 115.59 L587.87 113.04 L591.11 110.49 L594.44 107.94 L597.88 105.40 L601.41 102.86 L605.04 100.26 L608.79 97.65 L612.64 95.04 L616.60 92.45 L620.68 89.87 L624.88 87.31 L629.21 84.77 L633.66 82.25 L638.24 79.75 L642.95 77.28 L647.80 74.84 L652.79 72.44 L657.93 70.07 L663.22 67.74 L668.67 65.46 L674.27 63.22 L680.04 61.04 L685.97 58.92 L692.08 56.86 L698.37 54.86 L704.85 52.95 L711.51 51.11 L718.36 49.25 L725.42 47.32 L732.69 45.49 L740.16 43.77 L747.86 42.30 L755.78 41.18 L763.93 40.26 L772.32 39.61" stroke="#000" stroke-width="1.35" fill="none" stroke-linejoin="round"/>
<path d="M477.10 334.50 L477.10 334.33 L477.10 334.33 L477.10 334.32 L477.10 334.32 L477.10 334.32 L477.10 334.31 L477.10 334.31 L477.10 334.30 L477.10 334.30 L477.10 334.29 L477.10 334.29 L477.10 334.28 L477.10 334.28 L477.10 334.27 L477.10 334.27 L477.10 334.26 L477.10 334.26 L477.10 334.25 L477.11 334.25 L477.11 334.24 L477.11 334.23 L477.11 334.23 L477.11 334.22 L477.11 334.22 L477.11 334.21 L477.11 334.20 L477.11 334.20 L477.11 334.19 L477.11 334.18 L477.11 334.18 L477.11 334.17 L477.11 334.16 L477.11 334.15 L477.11 334.15 L477.11 334.14 L477.11 334.13 L477.11 334.12 L477.11 334.11 L477.11 334.10 L477.11 334.09 L477.11 334.08 L477.11 334.08 L477.11 334.07 L477.11 334.06 L477.11 334.05 L477.11 334.04 L477.11 334.03 L477.11 334.01 L477.11 334.00 L477.11 333.99 L477.11 333.98 L477.11 333.97 L477.11 333.96 L477.11 333.95 L477.11 333.93 L477.11 333.92 L477.11 333.91 L477.12 333.89 L477.12 333.88 L477.12 333.87 L477.12 333.85 L477.12 333.84 L477.12 333.82 L477.12 333.81 L477.12 333.79 L477.12 333.78 L477.12 333.76 L477.12 333.74 L477.12 333.73 L477.12 333.71 L477.12 333.69 L477.12 333.67 L477.12 333.66 L477.12 333.64 L477.13 333.62 L477.13 333.60 L477.13 333.58 L477.13 333.56 L477.13 333.54 L477.13 333.52 L477.13 333.49 L477.13 333.47 L477.13 333.45 L477.13 333.43 L477.13 333.40 L477.13 333.38 L477.14 333.35 L477.14 333.33 L477.14 333.30 L477.14 333.28 L477.14 333.25 L477.14 333.22 L477.14 333.19 L477.14 333.16 L477.14 333.13 L477.15 333.10 L477.15 333.07 L477.15 333.04 L477.15 333.01 L477.15 332.98 L477.15 332.94 L477.15 332.91 L477.16 332.87 L477.16 332.84 L477.16 332.80 L477.16 332.77 L477.16 332.73 L477.17 332.69 L477.17 332.65 L477.17 332.61 L477.17 332.57 L477.17 332.52 L477.18 332.48 L477.18 332.44 L477.18 332.39 L477.18 332.35 L477.18 332.30 L477.19 332.25 L477.19 332.20 L477.19 332.15 L477.19 332.10 L477.20 332.05 L477.20 332.00 L477.20 331.94 L477.21 331.89 L477.21 331.83 L477.21 331.77 L477.22 331.71 L477.22 331.65 L477.22 331.59 L477.23 331.53 L477.23 331.47 L477.23 331.40 L477.24 331.33 L477.24 331.27 L477.25 331.20 L477.25 331.13 L477.25 331.05 L477.26 330.98 L477.26 330.90 L477.27 330.83 L477.27 330.75 L477.28 330.67 L477.28 330.59 L477.29 330.50 L477.29 330.42 L477.30 330.33 L477.31 330.24 L477.31 330.15 L477.32 330.06 L477.33 329.96 L477.33 329.87 L477.34 329.77 L477.35 329.67 L477.35 329.56 L477.36 329.46 L477.37 329.35 L477.38 329.24 L477.38 329.13 L477.39 329.02 L477.40 328.90 L477.41 328.78 L477.42 328.66 L477.43 328.54 L477.44 328.41 L477.45 328.29 L477.46 328.16 L477.47 328.02 L477.48 327.89 L477.49 327.75 L477.50 327.61 L477.51 327.46 L477.52 327.31 L477.54 327.16 L477.55 327.01 L477.56 326.85 L477.58 326.69 L477.59 326.53 L477.60 326.37 L477.62 326.20 L477.63 326.02 L477.65 325.85 L477.67 325.67 L477.68 325.48 L477.70 325.30 L477.72 325.11 L477.74 324.91 L477.75 324.71 L477.77 324.51 L477.79 324.31 L477.81 324.10 L477.83 323.88 L477.86 323.66 L477.88 323.44 L477.90 323.21 L477.92 322.98 L477.95 322.75 L477.97 322.51 L478.00 322.26 L478.02 322.01 L478.05 321.76 L478.08 321.50 L478.11 321.23 L478.14 320.96 L478.17 320.69 L478.20 320.41 L478.23 320.12 L478.26 319.83 L478.30 319.53 L478.33 319.23 L478.37 318.92 L478.41 318.61 L478.44 318.28 L478.48 317.96 L478.52 317.63 L478.57 317.29 L478.61 316.94 L478.65 316.59 L478.70 316.23 L478.75 315.87 L478.79 315.49 L478.84 315.11 L478.89 314.73 L478.95 314.33 L479.00 313.93 L479.06 313.53 L479.11 313.11 L479.17 312.69 L479.23 312.25 L479.30 311.81 L479.36 311.37 L479.43 310.91 L479.49 310.45 L479.56 309.97 L479.64 309.49 L479.71 309.00 L479.79 308.50 L479.86 308.00 L479.95 307.48 L480.03 306.95 L480.11 306.42 L480.20 305.87 L480.29 305.31 L480.39 304.75 L480.48 304.17 L480.58 303.59 L480.68 302.99 L480.79 302.38 L480.90 301.76 L481.01 301.14 L481.12 300.50 L481.24 299.85 L481.36 299.18 L481.49 298.51 L481.61 297.82 L481.75 297.12 L481.88 296.41 L482.02 295.69 L482.17 294.96 L482.31 294.21 L482.47 293.45 L482.62 292.68 L482.78 291.89 L482.95 291.09 L483.16 290.28 L483.43 289.45 L483.71 288.61 L483.99 287.75 L484.29 286.88 L484.59 286.00 L484.90 285.10 L485.23 284.19 L485.56 283.26 L485.90 282.32 L486.25 281.36 L486.61 280.38 L486.98 279.39 L487.37 278.38 L487.72 277.36 L487.98 276.32 L488.25 275.27 L488.53 274.19 L488.82 273.10 L489.11 272.00 L489.42 270.87 L489.73 269.73 L490.06 268.57 L490.39 267.39 L490.73 266.19 L491.08 264.98 L491.44 263.75 L491.82 262.49 L492.20 261.22 L492.60 259.93 L493.00 258.62 L493.42 257.29 L493.71 255.95 L493.92 254.58 L494.13 253.19 L494.35 251.78 L494.57 250.35 L494.80 248.90 L495.07 247.43 L495.42 245.94 L495.78 244.43 L496.15 242.89 L496.53 241.34 L496.92 239.76 L497.33 238.16 L497.74 236.54 L498.28 234.90 L498.95 233.24 L499.63 231.55 L500.33 229.84 L501.06 228.11 L501.80 226.36 L502.57 224.59 L503.36 222.79 L504.17 220.97 L505.01 219.12 L505.87 217.26 L506.75 215.37 L507.66 213.46 L508.68 211.52 L509.97 209.57 L511.29 207.59 L512.66 205.59 L514.07 203.56 L515.44 201.51 L516.83 199.44 L518.27 197.35 L519.75 195.23 L521.27 193.10 L522.68 190.94 L524.06 188.75 L525.47 186.55 L526.91 184.32 L528.31 182.08 L529.75 179.81 L531.24 177.52 L532.77 175.21 L534.35 172.88 L535.97 170.53 L537.64 168.16 L539.36 165.77 L541.13 163.36 L542.35 160.94 L543.47 158.49 L544.84 156.03 L546.56 153.55 L548.38 151.06 L550.51 148.55 L552.70 146.02 L554.95 143.48 L557.27 140.94 L559.65 138.43 L562.11 135.92 L564.64 133.40 L567.24 130.87 L569.91 128.34" stroke="#000" stroke-width="1.3" stroke-dasharray="1.29 3.86" fill="none"/>
<path d="M572.80 124.55 l1.2 -0.7 M575.80 119.95 l1.2 -0.7 M579.80 116.15 l1.2 -0.7 M583.40 112.65 l1.2 -0.7 M587.00 108.95 l1.2 -0.7 M590.80 105.15 l1.2 -0.7 M594.30 101.65 l1.2 -0.7 M597.90 98.15 l1.2 -0.7 M601.50 94.05 l1.2 -0.7 M605.30 90.15 l1.2 -0.7 M609.90 88.95 l1.2 -0.7 M614.70 87.15 l1.2 -0.7 M619.50 85.65 l1.2 -0.7 M624.70 85.35 l1.2 -0.7 M629.70 84.35 l1.2 -0.7 M634.70 83.75 l1.2 -0.7 M639.60 82.25 l1.2 -0.7 M644.50 80.75 l1.2 -0.7 M648.80 77.95 l1.2 -0.7 M653.90 75.75 l1.2 -0.7 M658.90 74.45 l1.2 -0.7 M663.40 71.65 l1.2 -0.7 M667.50 69.65 l1.2 -0.7 M672.40 67.15 l1.2 -0.7 M676.60 65.05 l1.2 -0.7 M680.70 62.55 l1.2 -0.7 M686.20 60.35 l1.2 -0.7 M691.10 59.25 l1.2 -0.7 M696.40 57.25 l1.2 -0.7 M701.40 55.95 l1.2 -0.7 M705.50 53.75 l1.2 -0.7" stroke="#000" stroke-width="1.3" fill="none"/>
<path d="M711.51 52.11 L718.36 50.25 L725.42 48.32 L732.69 46.49 L740.16 44.77 L747.86 43.30 L755.78 42.18 L763.93 41.26 L772.32 40.61" stroke="#000" stroke-width="1.3" stroke-dasharray="1.29 3.86" fill="none"/>
<path d="M484.4 272.0 V297.4 M481.09999999999997 272.0 h6.6 M481.09999999999997 297.4 h6.6 M492.4 237.5 V272.4 M489.09999999999997 237.5 h6.6 M489.09999999999997 272.4 h6.6" stroke="#1c1c1c" stroke-width="1.2" fill="none"/>
</svg>
</body></html>
